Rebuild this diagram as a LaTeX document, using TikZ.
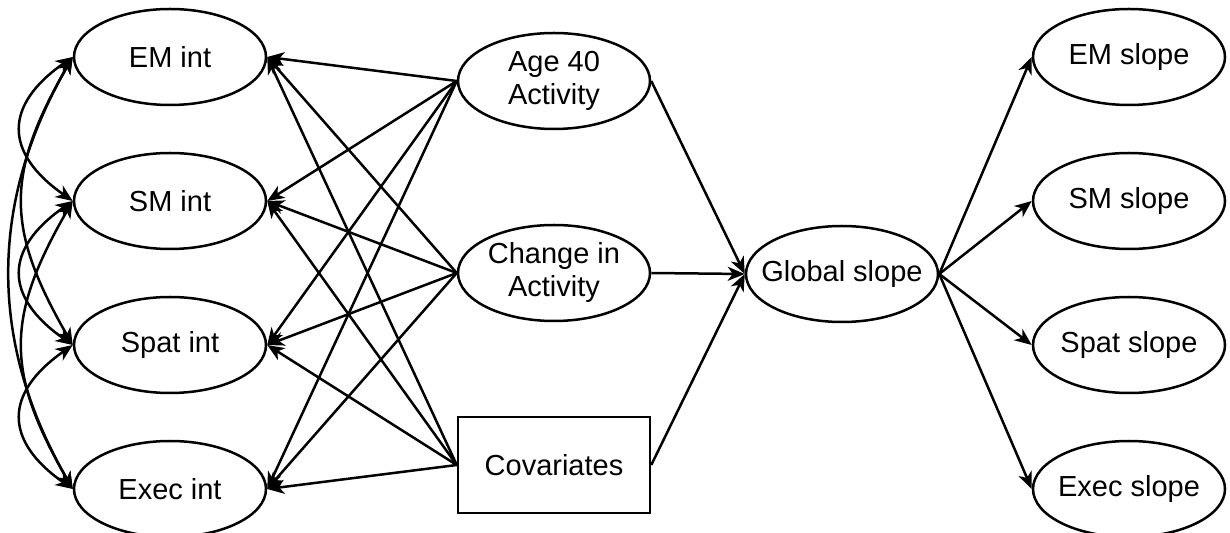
\documentclass[tikz,border=0pt]{standalone}
\usepackage{fontspec}
\setmainfont{Liberation Sans}
\usetikzlibrary{shapes.geometric,arrows.meta}

\begin{document}
\begin{tikzpicture}[x=0.5pt,y=-0.5pt,
                       line width=1.25pt,
                       >={Stealth[length=8.5pt,width=7pt,inset=2.5pt]},
                       every node/.style={font=\fontsize{14.5}{16.5}\selectfont},
                       latent node/.style={ellipse,draw,minimum width=96pt,minimum height=48pt,inner ysep=0pt,inner xsep=-8pt,align=center},
                       cov node/.style={rectangle,draw,minimum width=96pt,minimum height=48pt,inner sep=0pt}
                      ]
  \useasboundingbox (0,0) rectangle (1230,533);

  \node[latent node] (emint) at (170,57) {EM int};
  \node[latent node] (smint) at (170,201) {SM int};
  \node[latent node] (spatint) at (170,345) {Spat int};
  \node[latent node] (execint) at (170,489) {Exec int};

  \node[latent node] (age) at (554,81) {Age 40\\Activity};
  \node[latent node] (change) at (554,273) {Change in\\Activity};
  \node[cov node] (cov) at (554,465) {Covariates};

  \node[latent node] (global) at (842,274) {Global slope};

  \node[latent node] (emslope) at (1129,57) {EM slope};
  \node[latent node] (smslope) at (1129,201) {SM slope};
  \node[latent node] (spatslope) at (1129,345) {Spat slope};
  \node[latent node] (execslope) at (1129,489) {Exec slope};

  \path[->]%
   (age.west) edge (emint.east)
   (age.west) edge (smint.east)
   (age.west) edge (spatint.east)
   (age.west) edge (execint.east)
   (change.west) edge (emint.east)
   (change.west) edge (smint.east)
   (change.west) edge (spatint.east)
   (change.west) edge (execint.east)
   (cov.west) edge (emint.east)
   (cov.west) edge (smint.east)
   (cov.west) edge (spatint.east)
   (cov.west) edge (execint.east)
   (age.east) edge (global.west)
   (change.east) edge (global.west)
   (cov.east) edge (global.west)
   (global.east) edge (emslope.west)
   (global.east) edge (smslope.west)
   (global.east) edge (spatslope.west)
   (global.east) edge (execslope.west);

  % covariances between the intercepts
  \path[<->]%
   (emint.west) edge [out=215,in=145,looseness=1.5] (smint.west)
   (smint.west) edge [out=215,in=145,looseness=1.5] (spatint.west)
   (spatint.west) edge [out=215,in=145,looseness=1.5] (execint.west)
   (emint.west) edge [out=240,in=120,looseness=1.2] (spatint.west)
   (smint.west) edge [out=240,in=120,looseness=1.2] (execint.west)
   (emint.west) edge [out=240,in=120,looseness=1.0] (execint.west);
 \end{tikzpicture}
\end{document}
